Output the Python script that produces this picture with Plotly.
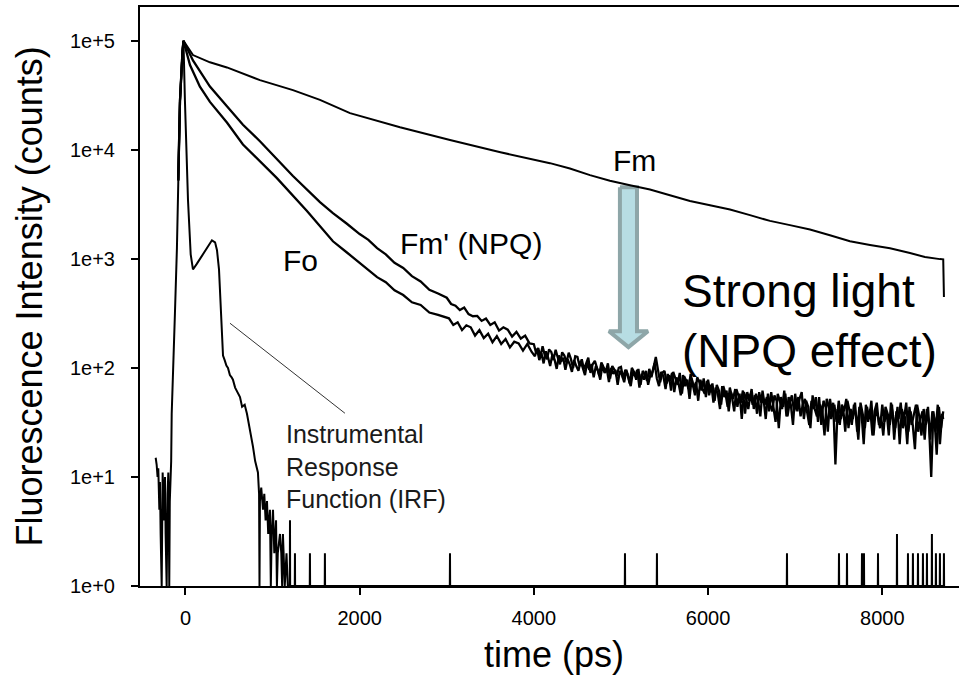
import math
import plotly.graph_objects as go

# ---------------- data ----------------
# Fm (dark adapted, maximal fluorescence)
fm_t = [-83, -63, -34, -23, 86, 281, 476, 706, 855, 1234, 1544, 1889, 2463, 3037, 3616,
        4185, 4414, 4644, 4873, 5103, 5333, 5562, 5792, 6022, 6252, 6481, 6711, 6940,
        7170, 7399, 7629, 7859, 8089, 8318, 8490, 8662, 8700, 8708]
fm_v = [5250, 28000, 80000, 100000, 74000, 63500, 57000, 48500, 43600, 35300, 28700, 21700,
        16100, 12300, 9500, 7550, 6750, 5860, 5200, 4740, 4320, 3840, 3400, 3110, 2840, 2520,
        2230, 2040, 1860, 1650, 1450, 1340, 1250, 1130, 1040, 995, 990, 447]

# Fm' (NPQ)
fmp_head_t = [-83, -63, -34, -23, 86, 281, 476, 660, 855, 1050, 1234, 1544, 1693, 1850]
fmp_head_v = [5250, 28000, 80000, 100000, 66000, 38000, 25100, 17000, 12000, 8300, 5750,
              3310, 2630, 2110]
fmp_mid_t = list(range(2000, 2951, 100))
fmp_mid_v = [1690, 1495, 1255, 1100, 920, 825, 695, 620, 520, 482]
fmp_mid2_t = list(range(3000, 3951, 50))
fmp_mid2_v = [440, 386, 372, 340, 358, 312, 298, 300, 270, 284, 248, 262, 220, 236, 224, 194,
              214, 186, 198, 168]
fmp_tail_t = list(range(4000, 8701, 25))
fmp_tail_v = [165, 138, 152, 126, 158, 131, 120, 148, 140, 118, 147, 124, 108, 139, 130, 112, 138, 121, 100, 128,
              126, 104, 120, 97, 112, 124, 90, 108, 116, 98, 86, 112, 102, 92, 110, 80, 104, 96, 84, 100,
              102, 80, 96, 88, 72, 100, 92, 78, 98, 70, 94, 86, 76, 98, 82, 104, 126, 96, 74, 90,
              94, 72, 86, 62, 92, 80, 70, 90, 58, 84, 76, 64, 88, 70, 56, 82, 74, 62, 80, 54,
              78, 60, 72, 50, 70, 62, 46, 68, 58, 44, 66, 54, 40, 64, 56, 48, 62, 38, 60, 50,
              64, 42, 58, 50, 36, 62, 46, 54, 40, 60, 44, 32, 58, 50, 42, 62, 36, 54, 46, 30,
              58, 40, 52, 60, 34, 50, 44, 28, 56, 42, 36, 54, 30, 50, 44, 26, 52, 38, 46, 32,
              50, 34, 44, 26, 50, 40, 30, 46, 36, 22, 48, 38, 28, 44, 34, 50, 24, 42, 36, 28,
              46, 32, 40, 24, 48, 36, 28, 44, 20, 42, 34, 48, 26, 40, 30, 18, 46, 36, 24, 42,
              30, 44, 22, 40, 34, 16, 44, 28, 40]

# Fo (minimal fluorescence)
fo_head_t = [-83, -63, -34, -23, 52, 166, 281, 476, 660, 855, 1050, 1395, 1693, 1850]
fo_head_v = [5250, 28000, 80000, 100000, 60000, 38000, 27500, 17800, 11200, 7760, 5500,
             2750, 1450, 1150]
fo_mid_t = list(range(2000, 2951, 100))
fo_mid_v = [915, 800, 680, 612, 515, 466, 400, 378, 322, 306]
fo_mid2_t = list(range(3025, 3976, 50))
fo_mid2_v = [285, 248, 262, 222, 246, 236, 198, 222, 188, 206, 172, 196, 166, 184, 154, 174,
             168, 144, 166, 140]
fo_tail_t = list(range(4012, 8688, 25)) + [8700]
fo_tail_v = [128, 150, 118, 136, 110, 142, 126, 104, 132, 120, 98, 130, 114, 124, 96, 120, 108, 92, 118, 104,
             94, 116, 100, 86, 112, 96, 108, 82, 104, 94, 78, 106, 90, 98, 74, 100, 88, 96, 70, 94,
             86, 74, 96, 82, 68, 92, 84, 96, 66, 88, 78, 94, 70, 86, 92, 110, 80, 68, 92, 84,
             64, 88, 76, 90, 60, 82, 72, 56, 86, 68, 78, 52, 80, 66, 74, 50, 78, 64, 58, 76,
             56, 70, 48, 66, 58, 42, 68, 54, 62, 40, 60, 52, 64, 44, 58, 34, 60, 52, 42, 58,
             46, 56, 38, 60, 48, 52, 34, 58, 46, 40, 56, 50, 28, 54, 44, 58, 36, 48, 56, 40,
             48, 54, 36, 46, 52, 38, 30, 50, 42, 54, 32, 46, 40, 24, 52, 44, 34, 48, 13, 42,
             30, 46, 40, 52, 28, 42, 34, 48, 26, 44, 38, 20, 46, 32, 42, 24, 40, 48, 30, 36,
             24, 44, 38, 30, 46, 22, 40, 34, 48, 28, 36, 20, 44, 30, 38, 46, 26, 34, 40, 22,
             42, 30, 10, 40, 26, 46, 20, 38,
             34]

# Instrumental Response Function (IRF)
irf_t = [-342, -331, -320, -312, -300, -293, -285, -278, -273, -262, -255, -247, -240, -235,
         -228, -222, -216, -205, -197, -192, -186, -180, -170, -164, -158, -144, -121, -98,
         -83, -63, -34, -23, -6, 29, 60, 86, 130, 166, 210, 247, 304, 340, 362, 385, 396,
         419, 431, 450, 470, 488, 510, 530, 545, 570, 600, 626, 650, 680, 706, 730, 750,
         775, 800, 832, 845, 850, 855, 870, 890, 905, 920, 936, 950, 970, 980, 990, 1005,
         1020, 1040, 1050, 1060, 1085, 1100, 1110, 1119, 1140, 1160, 1175]
irf_v = [15, 13, 10, 12, 5, 9, 3, 1, 1, 11, 6, 4, 8, 10, 3, 1, 1, 7, 11, 5, 1, 6, 9, 14, 38,
         76, 316, 1260, 5250, 28000, 80000, 100000, 28000, 3470, 1100, 800, 900, 1000, 1150,
         1290, 1480, 1420, 1200, 800, 550, 220, 130, 118, 105, 100, 86, 82, 78, 66, 60, 54,
         44, 46, 38, 30, 26, 19, 14, 11, 7, 1, 6, 8, 5, 7, 4, 6, 3, 5, 1, 3, 5, 2, 4, 1, 2,
         3, 2, 1, 3, 1, 2, 1]
# isolated single-count events in the IRF baseline
spike_t = [1200, 1257, 1429, 1601, 3037, 5046, 5413, 6906, 7503, 7595, 7767, 7790, 7951,
           8169, 8295, 8352, 8410, 8467, 8513, 8570, 8616, 8662, 8708]
spike_v = [4, 2, 2, 2, 2, 2, 2, 2, 2, 2, 2, 2, 2, 3, 2, 2, 2, 2, 2, 3, 2, 2, 2]
baseline_count = 1
irf_end_t = 8720

# NPQ arrow (time position and the two intensities it joins)
arrow_time = 5086
arrow_from = 4540
arrow_head_base = 217
arrow_to = 155
arrow_shaft_half = 98
arrow_head_half = 224

# pointer line from the IRF label to the IRF curve
pointer_t = [511, 1831]
pointer_v = [257, 38.4]

x_ticks = [0, 2000, 4000, 6000, 8000]
y_ticks = [1, 10, 100, 1000, 10000, 100000]
y_ticktext = ["1e+0", "1e+1", "1e+2", "1e+3", "1e+4", "1e+5"]

# ---------------- build ----------------
irf_full_t = list(irf_t)
irf_full_v = list(irf_v)
irf_full_t.append(1190)
irf_full_v.append(baseline_count)
for t, v in zip(spike_t, spike_v):
    irf_full_t += [t - 2, t, t + 2]
    irf_full_v += [baseline_count, v, baseline_count]
irf_full_t.append(irf_end_t)
irf_full_v.append(baseline_count)

fmp_t = fmp_head_t + fmp_mid_t + fmp_mid2_t + fmp_tail_t
fmp_v = fmp_head_v + fmp_mid_v + fmp_mid2_v + fmp_tail_v
fo_t = fo_head_t + fo_mid_t + fo_mid2_t + fo_tail_t
fo_v = fo_head_v + fo_mid_v + fo_mid2_v + fo_tail_v

FONT = "Liberation Sans, Arial, Helvetica, sans-serif"
fig = go.Figure()

c = arrow_time
ax = [c - arrow_shaft_half, c + arrow_shaft_half, c + arrow_shaft_half, c + arrow_head_half,
      c, c - arrow_head_half, c - arrow_shaft_half, c - arrow_shaft_half]
ay = [arrow_from, arrow_from, arrow_head_base, arrow_head_base, arrow_to, arrow_head_base,
      arrow_head_base, arrow_from]
fig.add_trace(go.Scatter(x=ax, y=ay, mode="lines", fill="toself", fillcolor="#b7dde3",
                         line=dict(color="#8ea6a8", width=4), hoverinfo="skip"))

fig.add_trace(go.Scatter(x=pointer_t, y=pointer_v, mode="lines",
                         line=dict(color="#333333", width=1), hoverinfo="skip"))

for xs, ys, w in [(irf_full_t, irf_full_v, 2), (fo_t, fo_v, 2.3), (fmp_t, fmp_v, 2.3),
                  (fm_t, fm_v, 2)]:
    fig.add_trace(go.Scatter(x=xs, y=ys, mode="lines",
                             line=dict(color="black", width=w), hoverinfo="skip"))

def ann(text, t, v, size, **kw):
    d = dict(x=t, y=math.log10(v), xref="x", yref="y", text=text, showarrow=False,
             font=dict(family=FONT, size=size, color=kw.pop("color", "black")))
    d.update(kw)
    fig.add_annotation(**d)

ann("Fm", 5161, 10 ** 3.905, 30)
ann("Fm' (NPQ)", 3278, 10 ** 3.142, 30)
ann("Fo", 1326, 10 ** 2.986, 30)
ann("Strong light<br>(NPQ effect)", 5677, 10 ** 2.428, 46, xanchor="left", align="left")
ann("Instrumental<br>Response<br>Function (IRF)", 1131, 10 ** 1.098, 25,
    xanchor="left", align="left", color="#1a1a1a")

fig.add_annotation(text="Fluorescence Intensity (counts)", xref="paper", yref="paper",
                   x=-0.1355, y=0.5, xanchor="center", yanchor="middle", textangle=-90,
                   showarrow=False, font=dict(family=FONT, size=36, color="black"))
fig.add_annotation(text="time (ps)", xref="paper", yref="paper",
                   x=0.5055, y=-0.119, xanchor="center", yanchor="middle",
                   showarrow=False, font=dict(family=FONT, size=36, color="black"))

fig.update_layout(
    width=959, height=679,
    margin=dict(l=140, r=0, t=7, b=93, autoexpand=False),
    paper_bgcolor="white", plot_bgcolor="white",
    showlegend=False, hovermode=False,
    font=dict(family=FONT, color="black"),
)
fig.update_xaxes(range=[-522, 8881], tickvals=x_ticks, ticks="outside", ticklen=7,
                 tickwidth=1.5, tickcolor="black", showline=True, linecolor="black",
                 linewidth=2, mirror=True, showgrid=False, zeroline=False,
                 tickfont=dict(family=FONT, size=20, color="black"), ticklabelstandoff=6)
fig.update_yaxes(type="log", range=[0, 5.31], tickvals=y_ticks, ticktext=y_ticktext,
                 ticks="outside", ticklen=7, tickwidth=1.5, tickcolor="black",
                 showline=True, linecolor="black", linewidth=2, showgrid=False,
                 zeroline=False, tickfont=dict(family=FONT, size=20, color="black"),
                 ticklabelstandoff=12)

fig.write_html("out.html")
